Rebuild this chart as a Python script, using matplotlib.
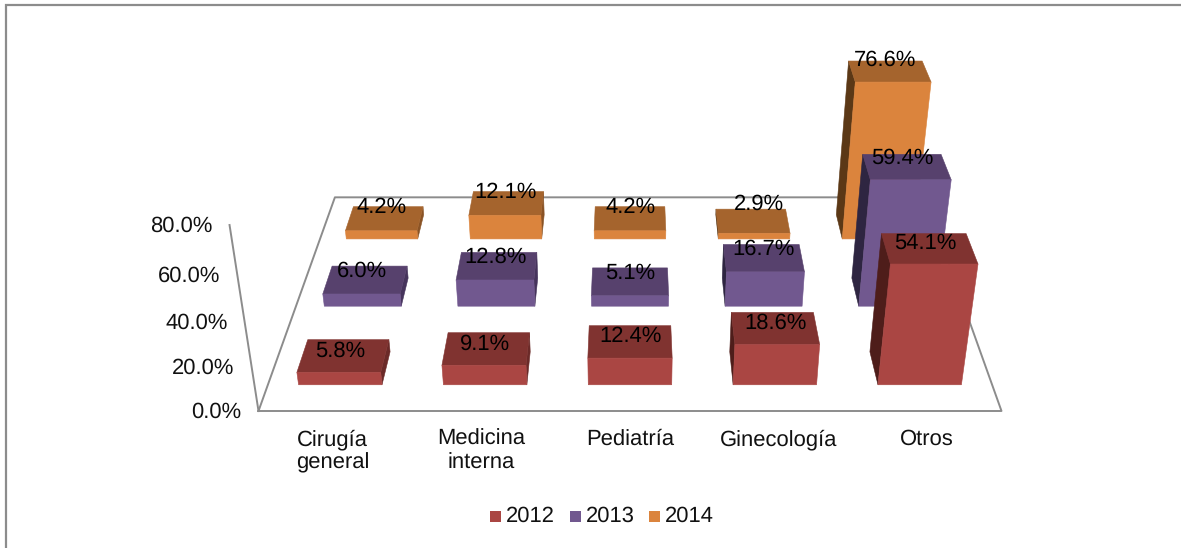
"""Excel style 3-D column chart, drawn with a small perspective projection."""

import matplotlib

matplotlib.use("Agg")
import matplotlib.pyplot as plt
from matplotlib.patches import Polygon, Rectangle

plt.rcParams["font.family"] = ["Liberation Sans", "DejaVu Sans"]
plt.rcParams["text.hinting"] = "no_hinting"
plt.rcParams["text.hinting_factor"] = 1

categories = ["Cirugía\ngeneral", "Medicina\ninterna", "Pediatría", "Ginecología", "Otros"]
series_names = ["2012", "2013", "2014"]
values_2012 = [5.8, 9.1, 12.4, 18.6, 54.1]
values_2013 = [6.0, 12.8, 5.1, 16.7, 59.4]
values_2014 = [4.2, 12.1, 4.2, 2.9, 76.6]
y_ticks = [0, 20, 40, 60, 80]

# face colours per series: front, top, left side, right side
COLORS = [
    ("#AA4643", "#803330", "#4E1D1A", "#6B2A28"),
    ("#71588F", "#57416D", "#2E2541", "#46345C"),
    ("#DB843D", "#A5642D", "#5B3816", "#8A5325"),
]
GRAY = "#8C8C8C"
FONT = 15.7

# projection fitted to the reference, output is in image pixels
CX = 630.0
VY = -628.0
FLOOR = 1039.0
CAT_W = 148.6
K_DEPTH = 0.0863
M_Z = 0.000904
H_Z = 3.096
BAR_W = 0.576
BAR_D = 0.4

# label placement, pixels
LABEL_DX = [-3.5, -1.5, 0.5, 0.5, -4]
LABEL_DY = [-5, -9, -11]
LABEL_NUDGE = {(3, 2): (6, -6)}  # the 2.9% label sits off its bar


def project(cat, depth, z):
    """cat in 0..5, depth in 0..3 (front to back), z in percent -> pixel x, y."""
    d = 1 + K_DEPTH * depth - M_Z * z
    x = CX + (cat - 2.5) * CAT_W / d
    y = VY + (FLOOR - H_Z * z) / d
    return x, y


def draw_bar(ax, cat, row, value, colors):
    front, top, left, right = colors
    x0, x1 = cat + 0.5 - BAR_W / 2, cat + 0.5 + BAR_W / 2
    d0, d1 = row + 0.5 - BAR_D / 2, row + 0.5 + BAR_D / 2
    faces = []
    if x0 > 2.5:
        faces.append(([(x0, d0, 0), (x0, d1, 0), (x0, d1, value), (x0, d0, value)], left))
    if x1 < 2.5:
        faces.append(([(x1, d0, 0), (x1, d1, 0), (x1, d1, value), (x1, d0, value)], right))
    faces.append(([(x0, d0, value), (x1, d0, value), (x1, d1, value), (x0, d1, value)], top))
    faces.append(([(x0, d0, 0), (x1, d0, 0), (x1, d0, value), (x0, d0, value)], front))
    for pts, color in faces:
        ax.add_patch(Polygon([project(*p) for p in pts], closed=True, facecolor=color,
                             edgecolor=color, linewidth=0.4, joinstyle="round", zorder=2))


fig = plt.figure(figsize=(11.81, 5.48), dpi=100)
ax = fig.add_axes([0, 0, 1, 1])
ax.set_xlim(0, 1181)
ax.set_ylim(548, 0)
ax.axis("off")

# chart frame, only top and left are inside the crop
ax.plot([5.5, 5.5, 1181], [548, 4.5, 4.5], color=GRAY, lw=1.6, solid_joinstyle="miter", zorder=1)

# floor and value axis, under the bars
floor = [project(0, 0, 0), project(5, 0, 0), project(5, 3, 0), project(0, 3, 0), project(0, 0, 0)]
ax.plot([p[0] for p in floor], [p[1] for p in floor], color=GRAY, lw=1.4, zorder=1)
axis_line = [project(0, 0, y_ticks[0]), project(0, 0, y_ticks[-1])]
ax.plot([p[0] for p in axis_line], [p[1] for p in axis_line], color=GRAY, lw=1.4, zorder=1)

for tick in y_ticks:
    x, y = project(0, 0, tick)
    ax.text(x - 17, y + 1.5, f"{tick:.1f}%", ha="right", va="center", fontsize=FONT, color="#111111")

for i, name in enumerate(categories):
    x, _ = project(i + 0.5, 0, 0)
    ax.text(x, 429, name, ha="center", va="top", fontsize=FONT, color="#111111", linespacing=1.2)

# back row first so the front bars cover it
rows = [values_2012, values_2013, values_2014]
for row in reversed(range(len(rows))):
    for cat, value in enumerate(rows[row]):
        draw_bar(ax, cat, row, value, COLORS[row])

for row, values in enumerate(rows):
    for cat, value in enumerate(values):
        x, y = project(cat + 0.5, row + 0.5, value)
        nx, ny = LABEL_NUDGE.get((cat, row), (0, 0))
        ax.text(x + LABEL_DX[cat] + nx, y + LABEL_DY[row] + ny, f"{value:.1f}%", ha="center",
                va="center", fontsize=FONT, color="black", zorder=3)

# legend
for name, colors, sx in zip(series_names, COLORS, [490, 570, 649]):
    ax.add_patch(Rectangle((sx, 511), 11, 11, facecolor=colors[0], edgecolor="none"))
    ax.text(sx + 16, 516.5, name, ha="left", va="center", fontsize=FONT, color="#111111")

fig.savefig("out.png", dpi=100)
